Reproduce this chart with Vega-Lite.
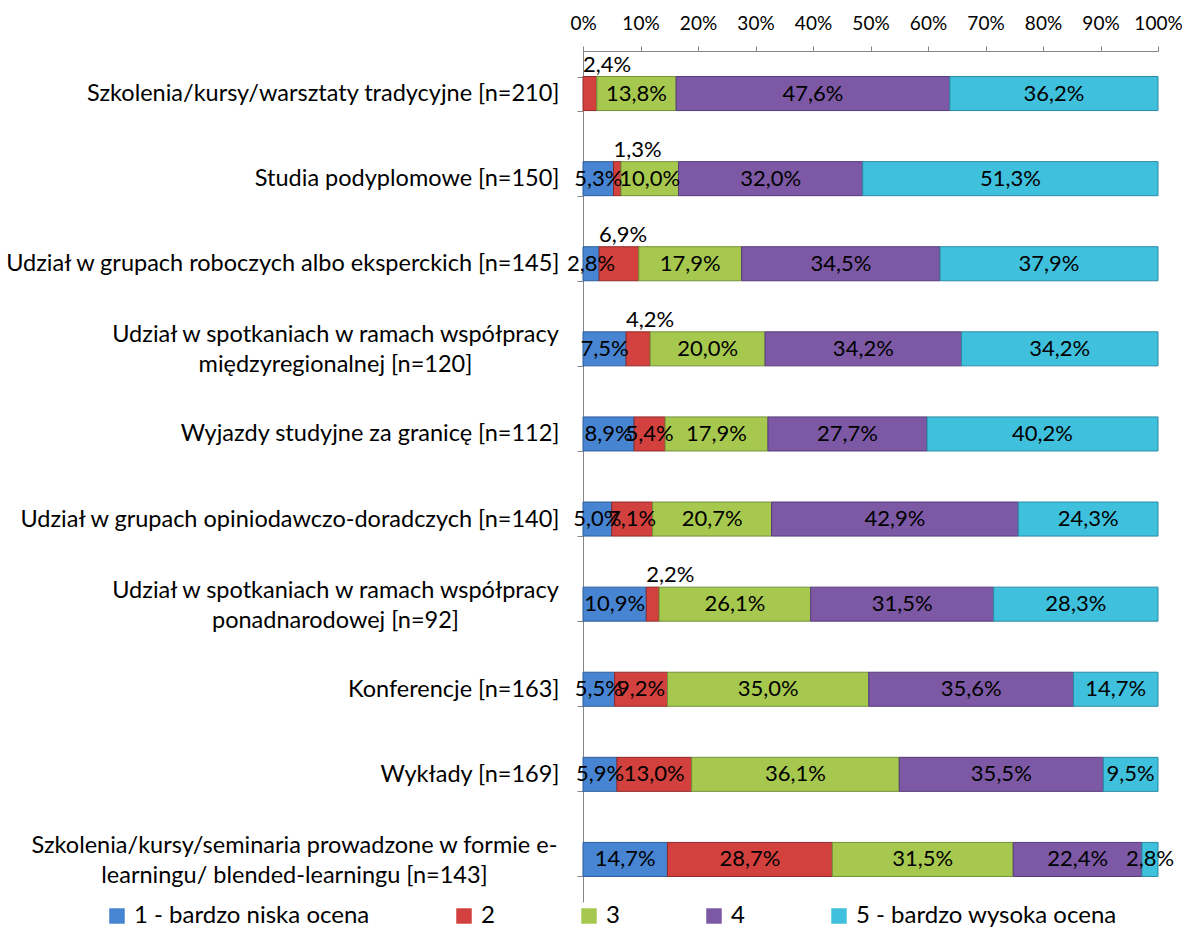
{
  "$schema": "https://vega.github.io/schema/vega-lite/v6.json",
  "width": 575,
  "height": 851,
  "autosize": "none",
  "padding": {"left": 583, "top": 51, "right": 24, "bottom": 30},
  "background": "white",
  "config": {
    "locale": {"number": {"decimal": ",", "thousands": " ", "grouping": [3], "currency": ["", " zł"]}},
    "view": {"stroke": null},
    "font": "Lato",
    "axis": {"labelFont": "Lato", "labelColor": "#000000", "domainColor": "#868686", "tickColor": "#868686", "grid": false}
  },
  "data": {
    "values": [
      {"k": "Szkolenia/kursy/warsztaty tradycyjne [n=210]", "o": "2", "v": 0.024},
      {"k": "Szkolenia/kursy/warsztaty tradycyjne [n=210]", "o": "3", "v": 0.138},
      {"k": "Szkolenia/kursy/warsztaty tradycyjne [n=210]", "o": "4", "v": 0.476},
      {"k": "Szkolenia/kursy/warsztaty tradycyjne [n=210]", "o": "5 - bardzo wysoka ocena", "v": 0.362},
      {"k": "Studia podyplomowe [n=150]", "o": "1 - bardzo niska ocena", "v": 0.053},
      {"k": "Studia podyplomowe [n=150]", "o": "2", "v": 0.013},
      {"k": "Studia podyplomowe [n=150]", "o": "3", "v": 0.100},
      {"k": "Studia podyplomowe [n=150]", "o": "4", "v": 0.320},
      {"k": "Studia podyplomowe [n=150]", "o": "5 - bardzo wysoka ocena", "v": 0.513},
      {"k": "Udział w grupach roboczych albo eksperckich [n=145]", "o": "1 - bardzo niska ocena", "v": 0.028},
      {"k": "Udział w grupach roboczych albo eksperckich [n=145]", "o": "2", "v": 0.069},
      {"k": "Udział w grupach roboczych albo eksperckich [n=145]", "o": "3", "v": 0.179},
      {"k": "Udział w grupach roboczych albo eksperckich [n=145]", "o": "4", "v": 0.345},
      {"k": "Udział w grupach roboczych albo eksperckich [n=145]", "o": "5 - bardzo wysoka ocena", "v": 0.379},
      {"k": "Udział w spotkaniach w ramach współpracy|międzyregionalnej [n=120]", "o": "1 - bardzo niska ocena", "v": 0.075},
      {"k": "Udział w spotkaniach w ramach współpracy|międzyregionalnej [n=120]", "o": "2", "v": 0.042},
      {"k": "Udział w spotkaniach w ramach współpracy|międzyregionalnej [n=120]", "o": "3", "v": 0.200},
      {"k": "Udział w spotkaniach w ramach współpracy|międzyregionalnej [n=120]", "o": "4", "v": 0.342},
      {"k": "Udział w spotkaniach w ramach współpracy|międzyregionalnej [n=120]", "o": "5 - bardzo wysoka ocena", "v": 0.342},
      {"k": "Wyjazdy studyjne za granicę [n=112]", "o": "1 - bardzo niska ocena", "v": 0.089},
      {"k": "Wyjazdy studyjne za granicę [n=112]", "o": "2", "v": 0.054},
      {"k": "Wyjazdy studyjne za granicę [n=112]", "o": "3", "v": 0.179},
      {"k": "Wyjazdy studyjne za granicę [n=112]", "o": "4", "v": 0.277},
      {"k": "Wyjazdy studyjne za granicę [n=112]", "o": "5 - bardzo wysoka ocena", "v": 0.402},
      {"k": "Udział w grupach opiniodawczo-doradczych [n=140]", "o": "1 - bardzo niska ocena", "v": 0.050},
      {"k": "Udział w grupach opiniodawczo-doradczych [n=140]", "o": "2", "v": 0.071},
      {"k": "Udział w grupach opiniodawczo-doradczych [n=140]", "o": "3", "v": 0.207},
      {"k": "Udział w grupach opiniodawczo-doradczych [n=140]", "o": "4", "v": 0.429},
      {"k": "Udział w grupach opiniodawczo-doradczych [n=140]", "o": "5 - bardzo wysoka ocena", "v": 0.243},
      {"k": "Udział w spotkaniach w ramach współpracy|ponadnarodowej [n=92]", "o": "1 - bardzo niska ocena", "v": 0.109},
      {"k": "Udział w spotkaniach w ramach współpracy|ponadnarodowej [n=92]", "o": "2", "v": 0.022},
      {"k": "Udział w spotkaniach w ramach współpracy|ponadnarodowej [n=92]", "o": "3", "v": 0.261},
      {"k": "Udział w spotkaniach w ramach współpracy|ponadnarodowej [n=92]", "o": "4", "v": 0.315},
      {"k": "Udział w spotkaniach w ramach współpracy|ponadnarodowej [n=92]", "o": "5 - bardzo wysoka ocena", "v": 0.283},
      {"k": "Konferencje [n=163]", "o": "1 - bardzo niska ocena", "v": 0.055},
      {"k": "Konferencje [n=163]", "o": "2", "v": 0.092},
      {"k": "Konferencje [n=163]", "o": "3", "v": 0.350},
      {"k": "Konferencje [n=163]", "o": "4", "v": 0.356},
      {"k": "Konferencje [n=163]", "o": "5 - bardzo wysoka ocena", "v": 0.147},
      {"k": "Wykłady [n=169]", "o": "1 - bardzo niska ocena", "v": 0.059},
      {"k": "Wykłady [n=169]", "o": "2", "v": 0.130},
      {"k": "Wykłady [n=169]", "o": "3", "v": 0.361},
      {"k": "Wykłady [n=169]", "o": "4", "v": 0.355},
      {"k": "Wykłady [n=169]", "o": "5 - bardzo wysoka ocena", "v": 0.095},
      {"k": "Szkolenia/kursy/seminaria prowadzone w formie e-|learningu/ blended-learningu [n=143]", "o": "1 - bardzo niska ocena", "v": 0.147},
      {"k": "Szkolenia/kursy/seminaria prowadzone w formie e-|learningu/ blended-learningu [n=143]", "o": "2", "v": 0.287},
      {"k": "Szkolenia/kursy/seminaria prowadzone w formie e-|learningu/ blended-learningu [n=143]", "o": "3", "v": 0.315},
      {"k": "Szkolenia/kursy/seminaria prowadzone w formie e-|learningu/ blended-learningu [n=143]", "o": "4", "v": 0.224},
      {"k": "Szkolenia/kursy/seminaria prowadzone w formie e-|learningu/ blended-learningu [n=143]", "o": "5 - bardzo wysoka ocena", "v": 0.028}
    ]
  },
  "encoding": {
    "y": {
      "field": "k", "type": "nominal", "sort": null,
      "scale": {"paddingInner": 0.6, "paddingOuter": 0.3},
      "axis": {
        "title": null,
        "labelExpr": "isValid(datum.value) ? split(datum.value, '|') : ''",
        "labelFontSize": 23.5,
        "labelLimit": 0,
        "labelOverlap": false,
        "labelLineHeight": 30,
        "tickBand": "extent",
        "tickSize": 6,
        "labelAlign": {"condition": {"test": "test(/[|]/, datum.value)", "value": "center"}, "value": "right"},
        "labelOffset": {"condition": {"test": "test(/[|]/, datum.value)", "value": -14}, "value": 0},
        "labelPadding": {"condition": [
          {"test": "test(/blended/, datum.value)", "value": 283},
          {"test": "test(/[|]/, datum.value)", "value": 242}
        ], "value": 18}
      }
    }
  },
  "layer": [
    {
      "mark": {"type": "bar", "strokeWidth": 1},
      "encoding": {
        "x": {
          "field": "v", "type": "quantitative", "stack": "normalize",
          "scale": {"domain": [0, 1]},
          "axis": {"orient": "top", "title": null, "format": ".0%", "values": [0, 0.1, 0.2, 0.3, 0.4, 0.5, 0.6, 0.7, 0.8, 0.9, 1], "labelFontSize": 19, "tickSize": 5, "labelPadding": 13, "labelOverlap": false, "labelFlush": false}
        },
        "color": {
          "field": "o", "type": "nominal",
          "scale": {
            "domain": ["1 - bardzo niska ocena", "2", "3", "4", "5 - bardzo wysoka ocena"],
            "range": ["#4785d2", "#d3413f", "#a7c84e", "#7d59a5", "#3fc0dd"]
          },
          "legend": {
            "orient": "none", "legendX": -478, "legendY": 853, "direction": "horizontal",
            "title": null, "symbolType": "square", "symbolSize": 240, "symbolStrokeWidth": 0,
            "labelFontSize": 24, "labelFont": "Lato", "labelColor": "#000000", "labelLimit": 0,
            "columnPadding": 82, "labelOffset": 5
          }
        },
        "stroke": {
          "field": "o", "type": "nominal",
          "scale": {
            "domain": ["1 - bardzo niska ocena", "2", "3", "4", "5 - bardzo wysoka ocena"],
            "range": ["#2f5f9a", "#8f2a28", "#73913a", "#553a7a", "#2a8ba3"]
          },
          "legend": null
        },
        "order": {"field": "o"}
      }
    },
    {
      "mark": {"type": "text", "fontSize": 22, "font": "Lato", "color": "#000000", "align": "center", "baseline": "middle"},
      "encoding": {
        "x": {"field": "v", "type": "quantitative", "stack": "normalize", "bandPosition": 0.5},
        "detail": {"field": "o"},
        "order": {"field": "o"},
        "text": {
          "condition": {"test": "datum.o == '2' && (datum.v < 0.05 || datum.v == 0.069)", "value": ""},
          "field": "v", "type": "quantitative", "format": ".1%"
        }
      }
    },
    {
      "mark": {"type": "text", "fontSize": 22, "font": "Lato", "color": "#000000", "align": "left", "baseline": "alphabetic", "dy": -22},
      "encoding": {
        "x": {"field": "v", "type": "quantitative", "stack": "normalize", "bandPosition": 0},
        "detail": {"field": "o"},
        "order": {"field": "o"},
        "text": {
          "condition": {"test": "!(datum.o == '2' && (datum.v < 0.05 || datum.v == 0.069))", "value": ""},
          "field": "v", "type": "quantitative", "format": ".1%"
        }
      }
    }
  ]
}
